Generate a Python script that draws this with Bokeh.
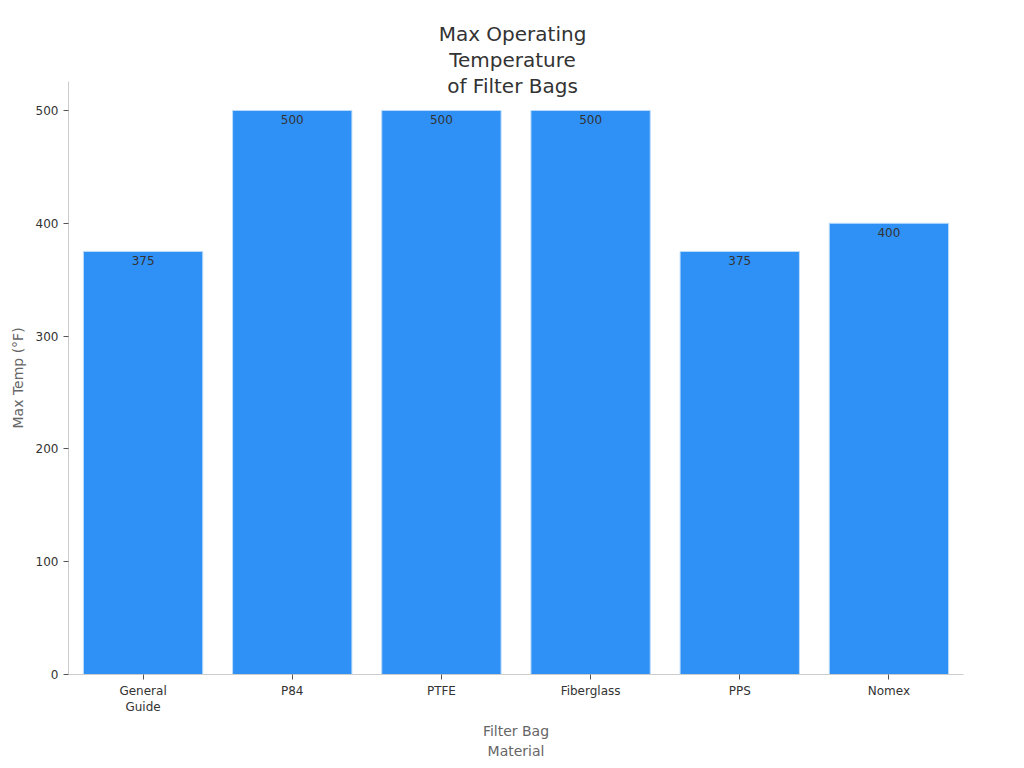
from bokeh.plotting import figure
from bokeh.models import ColumnDataSource, Label, Range1d, Title
from bokeh.core.properties import value
from bokeh.embed import file_html
from bokeh.resources import INLINE

# Données
materials = ["General\nGuide", "P84", "PTFE", "Fiberglass", "PPS", "Nomex"]
max_temps = [375, 500, 500, 500, 375, 400]
y_ticks = [0, 100, 200, 300, 400, 500]
title_lines = ["Max Operating", "Temperature", "of Filter Bags"]

FONT = "DejaVu Sans"

source = ColumnDataSource(dict(material=materials, temp=max_temps,
                               label=[str(t) for t in max_temps]))

# le cadre monte jusqu'au titre, l'axe y s'arrête à 526
p = figure(x_range=materials, y_range=Range1d(0, 583.3),
           frame_width=895, frame_height=658,
           output_backend="svg", toolbar_location=None, title=None,
           min_border_left=68, min_border_right=53,
           min_border_top=16, min_border_bottom=78)

p.vbar(x="material", top="temp", width=0.8, source=source,
       fill_color="#2f91f6", line_color="#bcdcfb", line_width=1)

p.text(x="material", y="temp", text="label", source=source,
       text_align="center", text_baseline="top", y_offset=5,
       text_font=value(FONT), text_font_size="9pt", text_color="#333333")

# Titre sur trois lignes, en coordonnées écran (à partir du bas du cadre)
for i, txt in enumerate(title_lines):
    p.add_layout(Label(x=444, y=641 - 26 * i, x_units="screen", y_units="screen",
                       text=txt, text_align="center", text_baseline="middle",
                       text_font=FONT, text_font_size="15pt",
                       text_color="#333333"))

# titre de l'axe y centré sur la partie utile de l'axe
p.add_layout(Title(text="Max Temp (°F)", align="left", offset=246,
                   text_font=FONT, text_font_size="10.5pt",
                   text_font_style="normal", text_color="#666666",
                   standoff=14), "left")

p.outline_line_color = None
p.xgrid.grid_line_color = None
p.ygrid.grid_line_color = None
p.background_fill_color = "white"

p.yaxis.ticker = y_ticks
p.yaxis.bounds = (0, 526)
for ax in (p.xaxis[0], p.yaxis[0]):
    ax.axis_line_color = "#cccccc"
    ax.major_tick_line_color = "#555555"
    ax.minor_tick_line_color = None
    ax.major_tick_in = 0
    ax.major_tick_out = 5
    ax.major_label_text_font = FONT
    ax.major_label_text_font_size = "9pt"
    ax.major_label_text_color = "#333333"
    ax.axis_label_text_font = FONT
    ax.axis_label_text_font_size = "10.5pt"
    ax.axis_label_text_font_style = "normal"
    ax.axis_label_text_color = "#666666"

p.xaxis.axis_label = "Filter Bag\nMaterial"
p.xaxis.major_label_standoff = 4
p.xaxis.axis_label_standoff = 6
p.x_range.range_padding = 0

open("out.html", "w").write(file_html(p, INLINE))
